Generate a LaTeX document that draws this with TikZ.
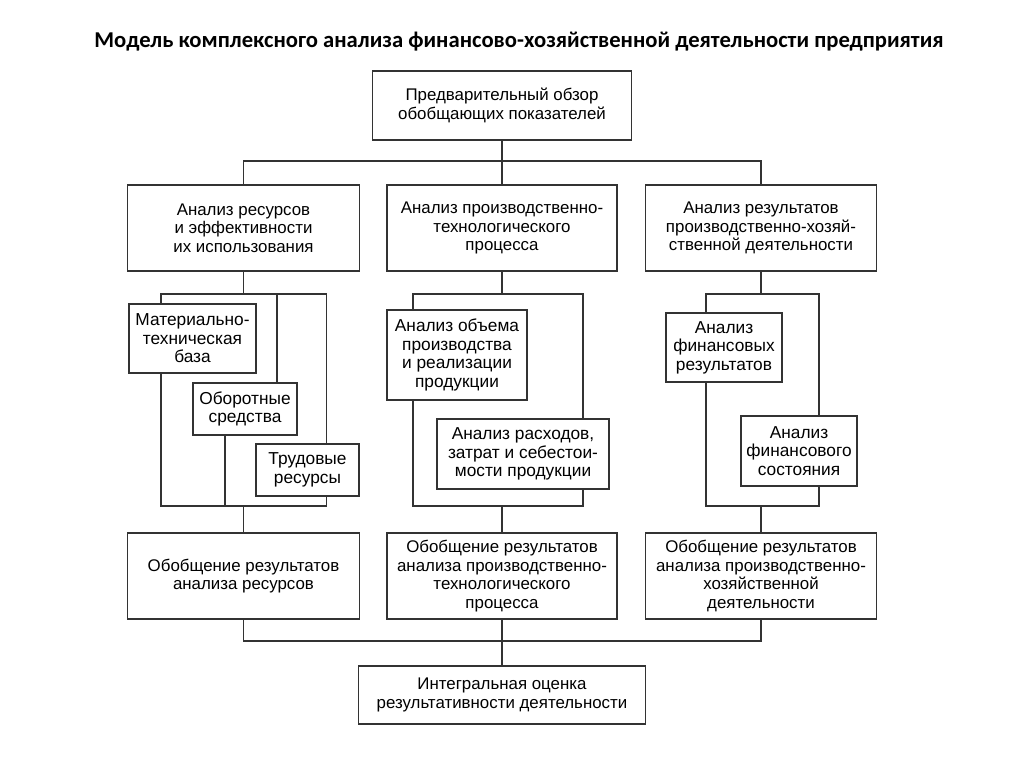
\documentclass[tikz,border=0pt]{standalone}
\usepackage{fontspec}
\setmainfont{Liberation Sans}
\newfontfamily\titlefont{Carlito}

\tikzset{
	box/.style={draw=black!80, line width=0.8pt, fill=white, align=center, inner sep=0pt,
		font=\fontsize{12}{13.1}\selectfont},
	sub/.style={draw=black!80, line width=0.8pt, fill=white, align=center, inner sep=0pt,
		font=\fontsize{12.3}{13.2}\selectfont},
	link/.style={draw=black!80, line width=0.8pt},
}

\begin{document}
\begin{tikzpicture}[x=0.025cm, y=-0.025cm]
	\useasboundingbox (0,0) rectangle (1024,768);
	
	%TITLE
	\node (title) at (519,42) {\titlefont\bfseries\fontsize{16.1}{18}\selectfont Модель комплексного анализа финансово-хозяйственной деятельности предприятия};
	
	%TOP BOX
	\node[box, minimum width=6.475cm, minimum height=1.725cm] (top) at (502,105.5) {Предварительный обзор\\обобщающих показателей};
	
	%ROW OF ANALYSES
	\node[box, minimum width=5.8cm, minimum height=2.15cm] (res) at (243.5,228) {Анализ ресурсов\\и эффективности\\их использования};
	\node[box, minimum width=5.75cm, minimum height=2.15cm] (prod) at (502,228) {Анализ производственно-\\технологического\\процесса};
	\node[box, minimum width=5.775cm, minimum height=2.15cm] (fin) at (761,228) {Анализ результатов\\производственно-хозяй-\\ственной деятельности};
	
	%LEFT GROUP
	\node[sub, minimum width=3.175cm, minimum height=1.725cm] (mat) at (192.5,338.5) {Материально-\\техническая\\база};
	\node[sub, minimum width=2.6cm, minimum height=1.3cm] (ob) at (245,409) {Оборотные\\средства};
	\node[sub, minimum width=2.575cm, minimum height=1.3cm] (trud) at (307.5,470) {Трудовые\\ресурсы};
	
	%MIDDLE GROUP
	\node[sub, minimum width=3.5cm, minimum height=2.25cm] (vol) at (457,355) {Анализ объема\\производства\\и реализации\\продукции};
	\node[sub, minimum width=4.3cm, minimum height=1.75cm] (cost) at (523,454) {Анализ расходов,\\затрат и себестои-\\мости продукции};
	
	%RIGHT GROUP
	\node[sub, minimum width=2.9cm, minimum height=1.725cm] (fres) at (724,347.5) {Анализ\\финансовых\\результатов};
	\node[sub, minimum width=2.9cm, minimum height=1.75cm] (fst) at (799,451) {Анализ\\финансового\\состояния};
	
	%ROW OF SUMMARIES
	\node[box, minimum width=5.8cm, minimum height=2.15cm] (resSum) at (243.5,576) {Обобщение результатов\\анализа ресурсов};
	\node[box, minimum width=5.75cm, minimum height=2.15cm] (prodSum) at (502,576) {Обобщение результатов\\анализа производственно-\\технологического\\процесса};
	\node[box, minimum width=5.775cm, minimum height=2.15cm] (finSum) at (761,576) {Обобщение результатов\\анализа производственно-\\хозяйственной\\деятельности};
	
	%FINAL BOX
	\node[box, minimum width=7.175cm, minimum height=1.45cm] (total) at (502,695) {Интегральная оценка\\результативности деятельности};
	
	%BUS POINTS
	\coordinate (tL) at (243.5,161);	\coordinate (tR) at (761,161);
	\coordinate (lT1) at (161,294);	\coordinate (lT2) at (277,294);	\coordinate (lT3) at (326.5,294);
	\coordinate (lB1) at (161,506);	\coordinate (lB2) at (225,506);	\coordinate (lB3) at (326.5,506);
	\coordinate (mT1) at (413,294);	\coordinate (mT2) at (583,294);
	\coordinate (mB1) at (413,506);	\coordinate (mB2) at (583,506);
	\coordinate (rT1) at (706,294);	\coordinate (rT2) at (819,294);
	\coordinate (rB1) at (706,506);	\coordinate (rB2) at (819,506);
	\coordinate (sL) at (243.5,641);	\coordinate (sR) at (761,641);
	
	%CONNECTORS
	\draw[link] (top.south) -- (prod.north);
	\draw[link] (res.north) -- (tL) -- (tR) -- (fin.north);
	%
	\draw[link] (res.south) -- (res.south |- lT1);
	\draw[link] (mat.north -| lT1) -- (lT1) -- (lT3) -- (trud.north -| lT3);
	\draw[link] (ob.north -| lT2) -- (lT2);
	\draw[link] (mat.south -| lB1) -- (lB1) -- (lB3) -- (trud.south -| lB3);
	\draw[link] (ob.south -| lB2) -- (lB2);
	\draw[link] (resSum.north) -- (resSum.north |- lB1);
	%
	\draw[link] (prod.south) -- (prod.south |- mT1);
	\draw[link] (vol.north -| mT1) -- (mT1) -- (mT2) -- (cost.north -| mT2);
	\draw[link] (vol.south -| mB1) -- (mB1) -- (mB2) -- (cost.south -| mB2);
	\draw[link] (prodSum.north) -- (prodSum.north |- mB1);
	%
	\draw[link] (fin.south) -- (fin.south |- rT1);
	\draw[link] (fres.north -| rT1) -- (rT1) -- (rT2) -- (fst.north -| rT2);
	\draw[link] (fres.south -| rB1) -- (rB1) -- (rB2) -- (fst.south -| rB2);
	\draw[link] (finSum.north) -- (finSum.north |- rB1);
	%
	\draw[link] (resSum.south) -- (sL) -- (sR) -- (finSum.south);
	\draw[link] (prodSum.south) -- (total.north);
\end{tikzpicture}
\end{document}
